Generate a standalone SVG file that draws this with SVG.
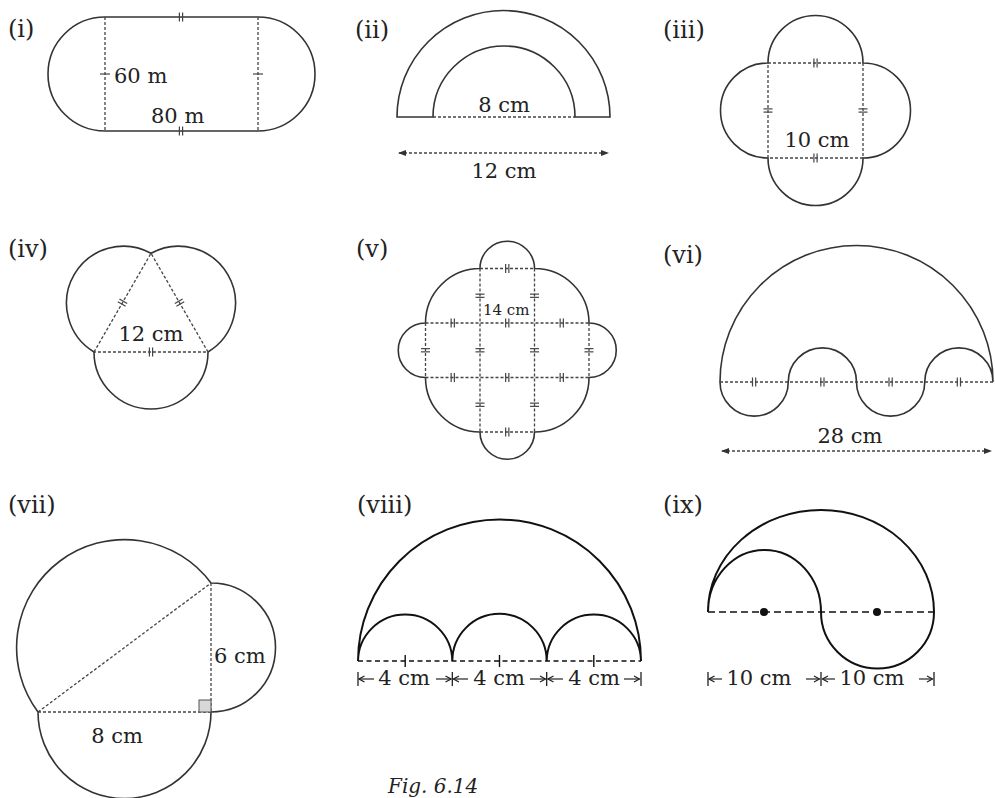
<svg xmlns="http://www.w3.org/2000/svg" xmlns:xlink="http://www.w3.org/1999/xlink" width="995" height="798" viewBox="0 0 995 798">
<style>
.ln{fill:none;stroke:#333;stroke-width:1.6}
.lnb{fill:none;stroke:#111;stroke-width:2}
.ds{fill:none;stroke:#444;stroke-width:1.3;stroke-dasharray:3 2}
.dsb{fill:none;stroke:#111;stroke-width:1.6;stroke-dasharray:5 3.5}
.dsc{fill:none;stroke:#111;stroke-width:1.6;stroke-dasharray:7 4}
.tk{stroke:#444;stroke-width:1.2}
.tkb{stroke:#111;stroke-width:1.4}
.t{font-family:"DejaVu Serif","Liberation Serif",serif;font-size:21px;fill:#222}
.lab{font-family:"DejaVu Serif","Liberation Serif",serif;font-size:24px;fill:#222}
.sm{font-size:15px}
.fig{font-family:"DejaVu Serif","Liberation Serif",serif;font-size:20px;font-style:italic;fill:#222}
.dim{fill:none;stroke:#444;stroke-width:1.3;stroke-dasharray:3 2;marker-start:url(#ah);marker-end:url(#ah)}
.oa{fill:none;stroke:#222;stroke-width:1.2;marker-end:url(#oa)}
.bar{stroke:#222;stroke-width:1.3}
</style>
<defs>
<marker id="ah" viewBox="0 0 8 6" refX="7" refY="3" markerWidth="8" markerHeight="6" markerUnits="userSpaceOnUse" orient="auto-start-reverse"><path d="M0,0 L8,3 L0,6 Z" fill="#333"/></marker>
<marker id="oa" viewBox="0 0 8 8" refX="7" refY="4" markerWidth="8" markerHeight="8" markerUnits="userSpaceOnUse" orient="auto"><path d="M1.5,1 L7,4 L1.5,7" fill="none" stroke="#222" stroke-width="1.2"/></marker>
<g id="dt" stroke="#444" stroke-width="1.2"><line x1="-1.6" y1="-4.5" x2="-1.6" y2="4.5"/><line x1="1.6" y1="-4.5" x2="1.6" y2="4.5"/></g>
</defs>
<rect width="995" height="798" fill="#fff"/>

<g id="fig-i">
<text class="lab" x="8" y="37">(i)</text>
<path class="ln" d="M105,17 H258 A57,57 0 0 1 258,131 H105 A57,57 0 0 1 105,17 Z"/>
<path class="ds" d="M105,17 V131 M258,17 V131"/>
<use xlink:href="#dt" x="181" y="17"/>
<use xlink:href="#dt" x="181" y="131"/>
<line class="tk" x1="100" y1="74" x2="110" y2="74"/>
<line class="tk" x1="253" y1="74" x2="263" y2="74"/>
<text class="t" x="114" y="83">60 m</text>
<text class="t" x="151" y="123">80 m</text>
</g>

<g id="fig-ii">
<text class="lab" x="355" y="38">(ii)</text>
<path class="ln" d="M397,117 A106.5,106.5 0 0 1 610,117 H575 A71,71 0 0 0 433,117 Z"/>
<path class="ds" d="M433,117 H575"/>
<text class="t" x="504" y="112" text-anchor="middle">8 cm</text>
<path class="dim" d="M399,153 H608"/>
<text class="t" x="504" y="178" text-anchor="middle">12 cm</text>
</g>

<g id="fig-iii">
<text class="lab" x="663" y="38">(iii)</text>
<path class="ln" d="M768,63 A47.5,47.5 0 0 1 863,63 A47.5,47.5 0 0 1 863,158 A47.5,47.5 0 0 1 768,158 A47.5,47.5 0 0 1 768,63 Z"/>
<rect class="ds" x="768" y="63" width="95" height="95"/>
<use xlink:href="#dt" transform="translate(815.5,63)"/>
<use xlink:href="#dt" transform="translate(815.5,158)"/>
<use xlink:href="#dt" transform="translate(768,110.5) rotate(90)"/>
<use xlink:href="#dt" transform="translate(863,110.5) rotate(90)"/>
<text class="t" x="817" y="147" text-anchor="middle">10 cm</text>
</g>

<g id="fig-iv">
<text class="lab" x="8" y="257">(iv)</text>
<path class="ln" d="M94,352 A57,57 0 0 1 151,253.3 A57,57 0 0 1 208,352 A57,57 0 0 1 94,352 Z"/>
<path class="ds" d="M94,352 L151,253.3 L208,352 Z"/>
<use xlink:href="#dt" transform="translate(122.5,302.6) rotate(-60)"/>
<use xlink:href="#dt" transform="translate(179.5,302.6) rotate(60)"/>
<use xlink:href="#dt" transform="translate(151,352)"/>
<text class="t" x="151" y="341" text-anchor="middle">12 cm</text>
</g>

<g id="fig-v">
<text class="lab" x="356" y="257">(v)</text>
<path class="ln" d="M480,268.5 A27.25,27.25 0 0 1 534.5,268.5 A54.5,54.5 0 0 1 589,323 A27.25,27.25 0 0 1 589,377.5 A54.5,54.5 0 0 1 534.5,432 A27.25,27.25 0 0 1 480,432 A54.5,54.5 0 0 1 425.5,377.5 A27.25,27.25 0 0 1 425.5,323 A54.5,54.5 0 0 1 480,268.5 Z"/>
<path class="ds" d="M480,268.5 H534.5 M425.5,323 H589 M425.5,377.5 H589 M480,432 H534.5 M425.5,323 V377.5 M480,268.5 V432 M534.5,268.5 V432 M589,323 V377.5"/>
<use xlink:href="#dt" x="507.25" y="268.5"/>
<use xlink:href="#dt" x="452.75" y="323"/>
<use xlink:href="#dt" x="507.25" y="323"/>
<use xlink:href="#dt" x="561.75" y="323"/>
<use xlink:href="#dt" x="452.75" y="377.5"/>
<use xlink:href="#dt" x="507.25" y="377.5"/>
<use xlink:href="#dt" x="561.75" y="377.5"/>
<use xlink:href="#dt" x="507.25" y="432"/>
<use xlink:href="#dt" transform="translate(425.5,350.25) rotate(90)"/>
<use xlink:href="#dt" transform="translate(480,295.75) rotate(90)"/>
<use xlink:href="#dt" transform="translate(480,350.25) rotate(90)"/>
<use xlink:href="#dt" transform="translate(480,404.75) rotate(90)"/>
<use xlink:href="#dt" transform="translate(534.5,295.75) rotate(90)"/>
<use xlink:href="#dt" transform="translate(534.5,350.25) rotate(90)"/>
<use xlink:href="#dt" transform="translate(534.5,404.75) rotate(90)"/>
<use xlink:href="#dt" transform="translate(589,350.25) rotate(90)"/>
<text class="t sm" x="483" y="315">14 cm</text>
</g>

<g id="fig-vi">
<text class="lab" x="663" y="263">(vi)</text>
<path class="ln" d="M720,382 A136.5,136.5 0 0 1 993,382 A34.125,34.125 0 0 0 924.75,382 A34.125,34.125 0 0 1 856.5,382 A34.125,34.125 0 0 0 788.25,382 A34.125,34.125 0 0 1 720,382 Z"/>
<path class="ds" d="M720,382 H993"/>
<use xlink:href="#dt" x="754.1" y="382"/>
<use xlink:href="#dt" x="822.4" y="382"/>
<use xlink:href="#dt" x="890.6" y="382"/>
<use xlink:href="#dt" x="958.9" y="382"/>
<text class="t" x="850" y="443" text-anchor="middle">28 cm</text>
<path class="dim" d="M722,451 H991"/>
</g>

<g id="fig-vii">
<text class="lab" x="8" y="513">(vii)</text>
<path class="ln" d="M38,712 A107.9,107.9 0 0 1 211,583 A64.5,64.5 0 0 1 211,712 A86.5,86.5 0 0 1 38,712 Z"/>
<path class="ds" d="M38,712 L211,583 M211,583 V712 M38,712 H211"/>
<rect x="199" y="700" width="12" height="12" fill="#d8d8d8" stroke="#555" stroke-width="1"/>
<text class="t" x="214" y="663">6 cm</text>
<text class="t" x="117" y="743" text-anchor="middle">8 cm</text>
</g>

<g id="fig-viii">
<text class="lab" x="357" y="513">(viii)</text>
<path class="lnb" d="M358,661 A141.5,141.5 0 0 1 641,661 A47.17,47.17 0 0 0 546.67,661 A47.17,47.17 0 0 0 452.33,661 A47.17,47.17 0 0 0 358,661"/>
<path class="dsb" d="M358,661 H641"/>
<path class="tkb" d="M405.2,655 V667 M499.5,655 V667 M593.8,655 V667"/>
<path class="bar" d="M358,672 V686 M452.33,672 V686 M546.67,672 V686 M641,672 V686"/>
<path class="oa" d="M374,679 H359"/>
<path class="oa" d="M436,679 H451"/>
<path class="oa" d="M468,679 H453.5"/>
<path class="oa" d="M530,679 H545.5"/>
<path class="oa" d="M563,679 H548"/>
<path class="oa" d="M624,679 H639.5"/>
<text class="t" x="404" y="685" text-anchor="middle">4 cm</text>
<text class="t" x="499" y="685" text-anchor="middle">4 cm</text>
<text class="t" x="594" y="685" text-anchor="middle">4 cm</text>
</g>

<g id="fig-ix">
<text class="lab" x="663" y="513">(ix)</text>
<path class="lnb" d="M708,612 A113,102 0 0 1 934,612 A56.5,56.5 0 0 1 821,612 A56.5,62 0 0 0 708,612"/>
<path class="dsc" d="M708,612 H934"/>
<circle cx="764" cy="612" r="4" fill="#111"/>
<circle cx="877" cy="612" r="4" fill="#111"/>
<path class="bar" d="M708,672 V686 M821,672 V686 M934,672 V686"/>
<path class="oa" d="M722,679 H709"/>
<path class="oa" d="M806,679 H819.5"/>
<path class="oa" d="M835,679 H822.5"/>
<path class="oa" d="M919,679 H932.5"/>
<text class="t" x="759" y="685" text-anchor="middle">10 cm</text>
<text class="t" x="872" y="685" text-anchor="middle">10 cm</text>
</g>

<text class="fig" x="388" y="793">Fig. 6.14</text>
</svg>
